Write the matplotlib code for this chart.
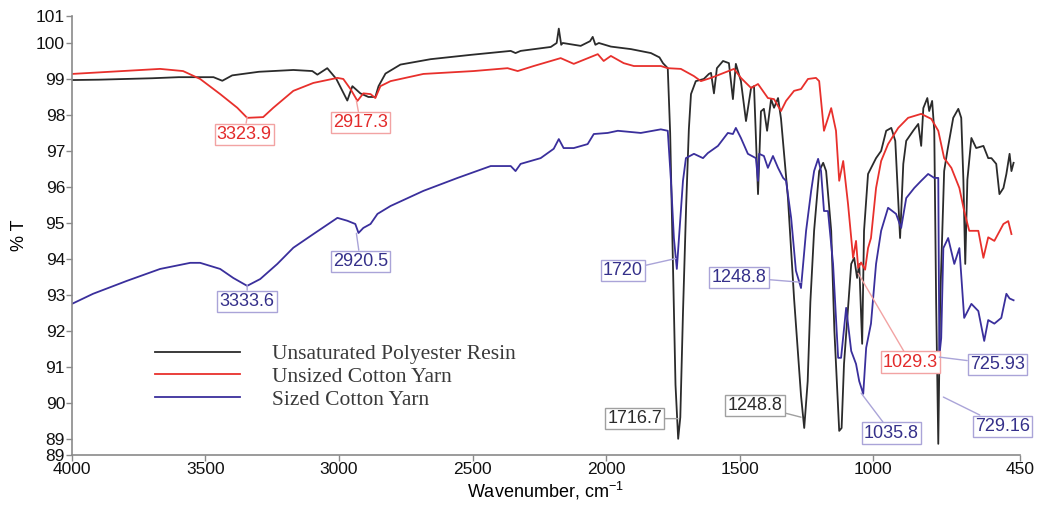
import numpy as np
import matplotlib
matplotlib.use('Agg')
import matplotlib.pyplot as plt

# ----------------------------------------------------------------------
#  Datos leídos del espectro FTIR (número de onda en cm-1, %T)
# ----------------------------------------------------------------------
resin_wn = [4000, 3900, 3800, 3700, 3600, 3520, 3470, 3437, 3400, 3300,
            3171, 3100, 3081, 3044, 3010, 2969, 2950, 2920, 2890, 2864,
            2852, 2826, 2770, 2657, 2507, 2357, 2339, 2320, 2207, 2185,
            2177, 2168, 2162, 2095, 2060, 2050, 2040, 2027, 1982, 1907,
            1832, 1800, 1787, 1769, 1760, 1750, 1740, 1730, 1722, 1712,
            1700, 1690, 1682, 1664, 1634, 1615, 1607, 1596, 1585, 1562,
            1540, 1525, 1514, 1495, 1476, 1457, 1446, 1431, 1420, 1409,
            1397, 1382, 1371, 1356, 1345, 1319, 1296, 1270, 1258, 1245,
            1235, 1221, 1202, 1187, 1176, 1157, 1145, 1127, 1118, 1109,
            1094, 1082, 1071, 1060, 1052, 1041, 1034, 1019, 1000, 989,
            970, 951, 932, 917, 899, 887, 876, 850, 831, 820,
            812, 797, 790, 779, 771, 764, 756, 749, 734, 722,
            700, 681, 670, 662, 655, 647, 632, 614, 587, 569,
            557, 539, 527, 512, 501, 489, 482, 474]
resin_t = [98.97, 98.98, 99.00, 99.02, 99.05, 99.05, 99.05, 98.95, 99.10, 99.20,
           99.25, 99.22, 99.12, 99.30, 99.00, 98.40, 98.80, 98.60, 98.50, 98.50,
           98.80, 99.15, 99.40, 99.55, 99.67, 99.78, 99.72, 99.78, 99.89, 100.00,
           100.40, 99.95, 100.00, 99.92, 100.05, 100.17, 99.95, 100.00, 99.90, 99.83,
           99.72, 99.60, 99.44, 99.30, 97.50, 94.00, 90.50, 89.00, 89.60, 92.50,
           95.50, 97.60, 98.58, 98.94, 99.00, 99.14, 99.17, 98.60, 99.30, 99.50,
           99.44, 98.44, 99.42, 98.94, 97.83, 98.75, 98.80, 95.80, 98.10, 98.17,
           97.56, 98.44, 98.20, 98.47, 97.90, 95.70, 92.90, 90.20, 89.30, 90.60,
           92.80, 94.78, 96.44, 96.67, 96.44, 94.78, 92.00, 89.22, 89.30, 91.08,
           92.64, 93.86, 94.03, 93.47, 93.86, 91.64, 94.78, 96.36, 96.64, 96.80,
           97.00, 97.56, 97.64, 97.28, 94.58, 96.64, 97.28, 97.56, 97.75, 97.14,
           98.19, 98.47, 98.11, 98.39, 97.56, 92.80, 88.86, 92.80, 96.44, 97.00,
           97.92, 98.17, 97.92, 96.20, 93.86, 96.20, 97.36, 97.08, 97.14, 96.80,
           96.80, 96.64, 95.80, 95.97, 96.36, 96.92, 96.44, 96.67]

unsized_wn = [4000, 3670, 3584, 3520, 3445, 3381, 3344, 3284, 3246, 3171,
              3096, 3006, 2984, 2957, 2931, 2909, 2882, 2864, 2845, 2807,
              2684, 2496, 2369, 2331, 2271, 2170, 2121, 2031, 2009, 1982,
              1934, 1896, 1795, 1769, 1720, 1671, 1645, 1607, 1521, 1495,
              1457, 1431, 1394, 1371, 1345, 1326, 1296, 1270, 1244, 1214,
              1202, 1184, 1157, 1139, 1127, 1112, 1094, 1075, 1064, 1056,
              1045, 1030, 1019, 1008, 989, 970, 944, 906, 869, 820,
              782, 756, 734, 707, 677, 659, 640, 606, 587, 569,
              546, 512, 494, 482]
unsized_t = [99.14, 99.28, 99.22, 99.00, 98.58, 98.20, 97.92, 97.94, 98.20, 98.67,
             98.89, 99.03, 99.00, 98.72, 98.39, 98.60, 98.58, 98.47, 98.80, 98.94,
             99.14, 99.22, 99.30, 99.22, 99.36, 99.58, 99.42, 99.69, 99.50, 99.64,
             99.44, 99.36, 99.36, 99.30, 99.28, 99.08, 98.94, 99.03, 99.28, 99.03,
             98.75, 98.86, 98.47, 98.44, 98.11, 98.39, 98.67, 98.72, 99.00, 99.03,
             98.94, 97.56, 98.19, 97.56, 96.17, 96.72, 95.53, 94.03, 94.50, 93.75,
             93.90, 93.70, 94.30, 94.58, 95.97, 96.72, 97.19, 97.64, 97.92, 98.03,
             97.89, 97.56, 96.80, 96.53, 95.97, 95.33, 94.78, 94.78, 94.03, 94.60,
             94.50, 94.97, 95.05, 94.69]

sized_wn = [4000, 3921, 3794, 3670, 3557, 3520, 3445, 3396, 3344, 3295,
            3231, 3171, 3096, 3006, 2969, 2939, 2927, 2909, 2882, 2856,
            2807, 2684, 2556, 2432, 2357, 2339, 2320, 2245, 2196, 2177,
            2159, 2121, 2069, 2046, 1994, 1956, 1870, 1795, 1769, 1757,
            1746, 1735, 1727, 1712, 1701, 1671, 1637, 1619, 1581, 1544,
            1525, 1514, 1495, 1469, 1439, 1431, 1427, 1409, 1394, 1375,
            1356, 1337, 1326, 1307, 1289, 1270, 1251, 1232, 1221, 1206,
            1195, 1184, 1169, 1150, 1131, 1120, 1101, 1082, 1064, 1052,
            1037, 1026, 1008, 989, 970, 944, 914, 895, 876, 846,
            820, 794, 771, 756, 752, 745, 737, 719, 696, 677,
            659, 632, 606, 584, 569, 546, 520, 501, 489, 474]
sized_t = [92.75, 93.03, 93.39, 93.72, 93.89, 93.89, 93.72, 93.47, 93.25, 93.44,
           93.86, 94.31, 94.69, 95.14, 95.06, 94.97, 94.72, 94.86, 94.97, 95.25,
           95.47, 95.89, 96.25, 96.58, 96.58, 96.44, 96.64, 96.80, 97.06, 97.33,
           97.08, 97.08, 97.19, 97.47, 97.50, 97.56, 97.50, 97.60, 97.56, 96.17,
           94.58, 93.72, 94.58, 96.17, 96.80, 96.92, 96.80, 96.94, 97.14, 97.50,
           97.47, 97.64, 97.36, 96.92, 96.80, 96.17, 96.92, 96.86, 96.53, 96.86,
           96.53, 96.25, 96.17, 95.14, 93.67, 93.19, 94.78, 95.89, 96.44, 96.78,
           96.44, 95.33, 95.33, 93.86, 91.25, 91.25, 92.64, 91.44, 91.08, 90.60,
           90.25, 91.53, 92.20, 93.86, 94.78, 95.42, 95.25, 94.86, 95.69, 95.97,
           96.17, 96.36, 96.25, 96.25, 91.30, 91.80, 94.30, 94.58, 93.86, 94.30,
           92.36, 92.75, 92.55, 91.72, 92.30, 92.20, 92.36, 93.03, 92.90, 92.85]

series_names = ['Unsaturated Polyester Resin', 'Unsized Cotton Yarn',
                'Sized Cotton Yarn']

# Etiquetas de picos: (texto, punto en la curva, centro de la caja, serie)
peak_labels = ['3323.9', '2917.3', '3333.6', '2920.5', '1720', '1248.8',
               '1716.7', '1248.8', '1029.3', '725.93', '1035.8', '729.16']
peak_xy = [(3344, 97.94), (2935, 98.40), (3344, 93.27), (2935, 94.71),
           (1739, 94.01), (1270, 93.35), (1731, 89.56), (1270, 89.60),
           (1056, 93.60), (752, 91.27), (1045, 90.27), (737, 90.16)]
peak_box = [(3355, 97.46), (2920, 97.79), (3344, 92.82), (2920, 93.93),
            (1937, 93.68), (1502, 93.49), (1892, 89.56), (1442, 89.93),
            (861, 91.13), (535, 91.07), (932, 89.16), (516, 89.35)]
peak_series = [1, 1, 2, 2, 2, 2, 0, 0, 1, 2, 2, 2]

y_ticks = [88.55, 89, 90, 91, 92, 93, 94, 95, 96, 97, 98, 99, 100, 100.75]
y_ticklabels = ['89', '89', '90', '91', '92', '93', '94', '95', '96', '97',
                '98', '99', '100', '101']
x_ticks = [4000, 3500, 3000, 2500, 2000, 1500, 1000, 450]


def main():
    line_colors = ['#2b2b2b', '#e8302c', '#3a2f9c']
    text_colors = ['#2b2b2b', '#e32b2b', '#35308a']
    edge_colors = ['#a0a0a0', '#f2a3a3', '#aaa4d8']

    fig = plt.figure(figsize=(10.37, 5.13), dpi=100)
    ax = fig.add_axes([0.0694, 0.1131, 0.9142, 0.8557])

    ax.plot(resin_wn, resin_t, color=line_colors[0], lw=1.3,
            label=series_names[0])
    ax.plot(unsized_wn, unsized_t, color=line_colors[1], lw=1.3,
            label=series_names[1])
    ax.plot(sized_wn, sized_t, color=line_colors[2], lw=1.3,
            label=series_names[2])

    ax.set_xlim(4000, 450)
    ax.set_ylim(88.55, 100.75)
    ax.set_xticks(x_ticks)
    ax.set_xticklabels([str(v) for v in x_ticks])
    ax.set_yticks(y_ticks)
    ax.set_yticklabels(y_ticklabels)

    for side in ['top', 'right']:
        ax.spines[side].set_visible(False)
    for side in ['left', 'bottom']:
        ax.spines[side].set_color('#8a8a8a')
        ax.spines[side].set_linewidth(1.2)
    ax.tick_params(axis='both', colors='#8a8a8a', length=4, width=1,
                   labelcolor='#111111', labelsize=12.5, pad=1)
    for lab in ax.get_xticklabels() + ax.get_yticklabels():
        lab.set_family('Liberation Sans')

    ax.set_xlabel('Wavenumber, cm$^{\\mathregular{-1}}$', fontsize=13,
                  family='Liberation Sans', labelpad=2)
    ax.set_ylabel('% T', fontsize=13, family='Liberation Sans', labelpad=6)

    # Etiquetas de picos con caja y línea guía
    for txt, xy, box, s in zip(peak_labels, peak_xy, peak_box, peak_series):
        ax.annotate(txt, xy=xy, xytext=box, ha='center', va='center',
                    fontsize=13, family='Liberation Sans',
                    color=text_colors[s],
                    bbox=dict(boxstyle='square,pad=0.12', fc='white',
                              ec=edge_colors[s], lw=1.0),
                    arrowprops=dict(arrowstyle='-', color=edge_colors[s],
                                    lw=1.0, shrinkA=0, shrinkB=0),
                    annotation_clip=False)

    leg = ax.legend(loc='center left', bbox_to_anchor=(0.0876, 0.178),
                    frameon=False, handlelength=3.95, handletextpad=1.5,
                    labelspacing=0.12, borderpad=0, borderaxespad=0,
                    prop={'family': 'Liberation Serif', 'size': 15.5})
    for t in leg.get_texts():
        t.set_color('#3a3a3a')

    fig.savefig('out.png', dpi=100)


if __name__ == '__main__':
    main()
